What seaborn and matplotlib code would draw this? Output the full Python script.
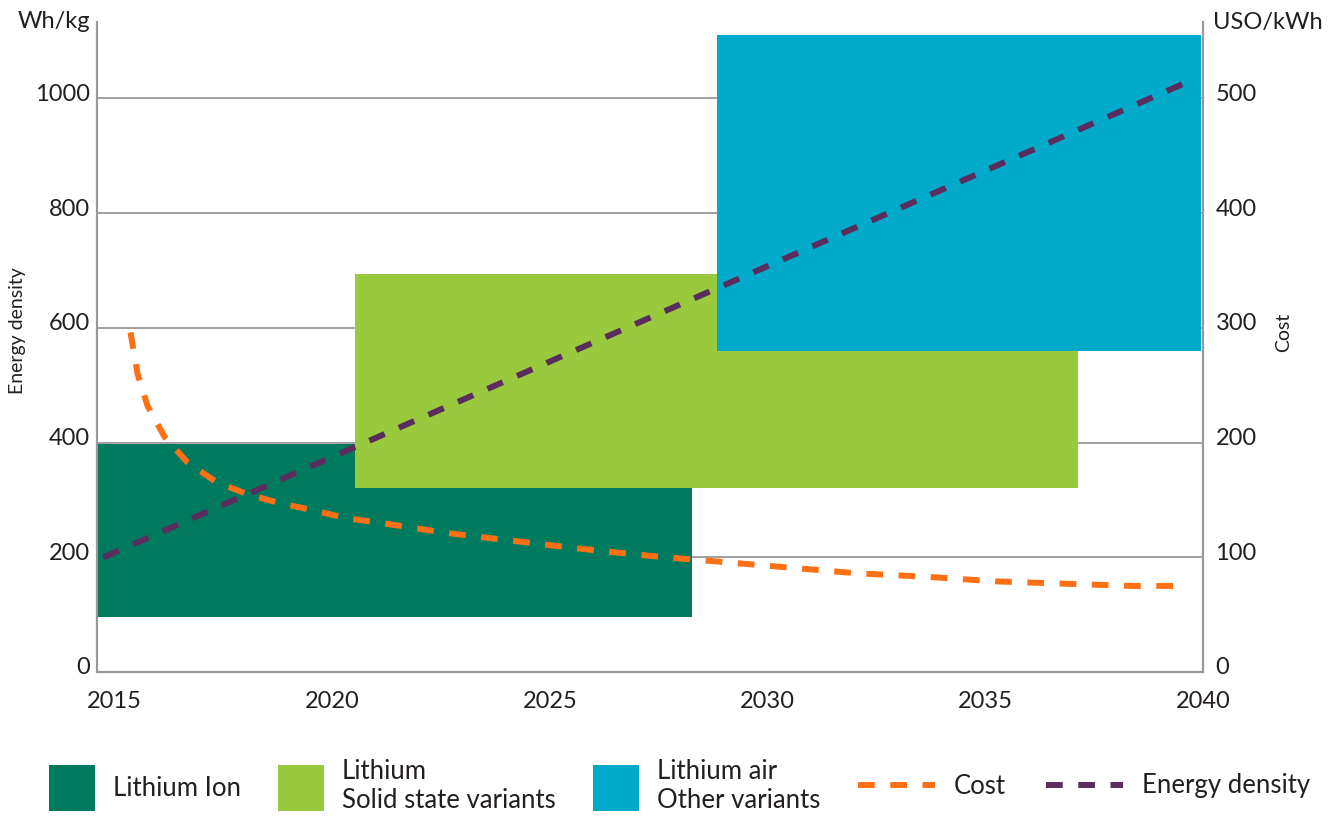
import numpy as np
import pandas as pd
import matplotlib
matplotlib.use("Agg")
import matplotlib.pyplot as plt
import matplotlib.transforms as mtransforms
from matplotlib.patches import Patch
from matplotlib.lines import Line2D
import seaborn as sns

# Technology ranges (years on x, Wh/kg on left axis)
techs = ["Lithium Ion", "Lithium\nSolid state variants", "Lithium air\nOther variants"]
tech_start = [2014.6, 2020.53, 2028.83]
tech_end = [2028.26, 2037.13, 2039.95]
tech_low = [95, 320, 560]
tech_high = [397, 693, 1110]
tech_colors = ["#007a5e", "#99c93c", "#00aac8"]

# Energy density trend (Wh/kg)
energy_years = [2014.75, 2039.6]
energy_values = [200, 1027]

# Cost trend (USD/kWh, right axis)
cost_years = [2015.37, 2015.53, 2015.76, 2016.15, 2016.67, 2017.32, 2018.05, 2018.81,
              2019.56, 2020.34, 2021.1, 2022.66, 2024.24, 2025.8, 2027.36, 2028.94,
              2030.5, 2032.06, 2033.65, 2035.23, 2036.8, 2038.37, 2039.33]
cost_values = [296, 260, 232, 205, 183, 166, 155, 147,
               141, 134, 130, 121, 114, 107, 101, 96,
               91, 86, 83, 79, 77, 75, 75]

x_ticks = [2015, 2020, 2025, 2030, 2035, 2040]
left_ticks = [0, 200, 400, 600, 800, 1000]
right_ticks = [0, 100, 200, 300, 400, 500]

cost_color = "#ff6f14"
energy_color = "#5b2c5e"
text_color = "#231f20"
axis_gray = "#999999"

sns.set_theme(style="white")
plt.rcParams["font.family"] = ["Lato", "DejaVu Sans"]
plt.rcParams["text.color"] = text_color

fig = plt.figure(figsize=(13.37, 8.16), dpi=100)
ax = fig.add_axes([97 / 1337, 1 - 672 / 816, (1203 - 97) / 1337, (672 - 22) / 816])

# boxes
for i in range(len(techs)):
    ax.bar(tech_start[i], tech_high[i] - tech_low[i], width=tech_end[i] - tech_start[i],
           bottom=tech_low[i], align="edge", color=tech_colors[i], linewidth=0, zorder=2 + i)

dash = (2.8, 2.6)
energy_df = pd.DataFrame({"year": energy_years, "value": energy_values})
sns.lineplot(data=energy_df, x="year", y="value", ax=ax, color=energy_color,
             linewidth=4.3, zorder=10)
ax.lines[-1].set_dashes(dash)

ax.set_xlim(2014.6, 2040)
ax.set_ylim(0, 1133)
ax.set_xticks(x_ticks)
ax.set_yticks(left_ticks)
ax.yaxis.grid(True, color=axis_gray, linewidth=1.3)
ax.set_axisbelow(True)
ax.tick_params(axis="x", length=0, pad=14, labelsize=17, labelcolor=text_color)
ax.tick_params(axis="y", length=0, pad=5, labelsize=17, labelcolor=text_color)
ax.set_xlabel("")
ax.set_ylabel("Energy density", fontsize=14, color=text_color)
ax.yaxis.set_label_coords(-(97 - 26) / 1106, 1 - (331 - 22) / 650)

ax2 = ax.twinx()
cost_df = pd.DataFrame({"year": cost_years, "value": cost_values})
sns.lineplot(data=cost_df, x="year", y="value", ax=ax2, color=cost_color,
             linewidth=4.3, zorder=10)
ax2.lines[-1].set_dashes(dash)
ax2.set_ylim(0, 1133 / 2)
ax2.set_yticks(right_ticks)
ax2.tick_params(axis="y", length=0, pad=9, labelsize=17, labelcolor=text_color)
ax2.set_ylabel("Cost", fontsize=14, color=text_color)
ax2.yaxis.set_label_coords(1 + (1275 - 1203) / 1106, 1 - (332 - 22) / 650)
ax2.set_xlim(2014.6, 2040)

for a in (ax, ax2):
    a.spines["top"].set_visible(False)
    for s in ("left", "right", "bottom"):
        a.spines[s].set_color(axis_gray)
        a.spines[s].set_linewidth(1.5)

# lift the y tick labels a little above their gridlines
shift = mtransforms.ScaledTranslation(0, 6 / 100, fig.dpi_scale_trans)
for lab in ax.get_yticklabels() + ax2.get_yticklabels():
    lab.set_transform(lab.get_transform() + shift)

fig.text(90 / 1337, 1 - 22 / 816, "Wh/kg", ha="right", va="center", fontsize=17)
fig.text(1213 / 1337, 1 - 22 / 816, "USO/kWh", ha="left", va="center", fontsize=17)

# legends
patch_handles = [Patch(facecolor=c, edgecolor="none") for c in tech_colors]
leg1 = fig.legend(patch_handles, techs, loc="center left",
                  bbox_to_anchor=(26 / 1337, 1 - 786 / 816), ncol=3, frameon=False,
                  fontsize=18.5, handlelength=1.79, handleheight=2.38,
                  handletextpad=0.7, columnspacing=1.44, labelspacing=0.2)
line_handles = [Line2D([0], [0], color=cost_color, linewidth=4.3, dashes=dash),
                Line2D([0], [0], color=energy_color, linewidth=4.3, dashes=dash)]
leg2 = fig.legend(line_handles, ["Cost", "Energy density"], loc="center left",
                  bbox_to_anchor=(835 / 1337, 1 - 786 / 816), ncol=2, frameon=False,
                  fontsize=18.5, handlelength=3.0, handletextpad=0.74, columnspacing=1.56)

fig.savefig("out.png", dpi=100)
